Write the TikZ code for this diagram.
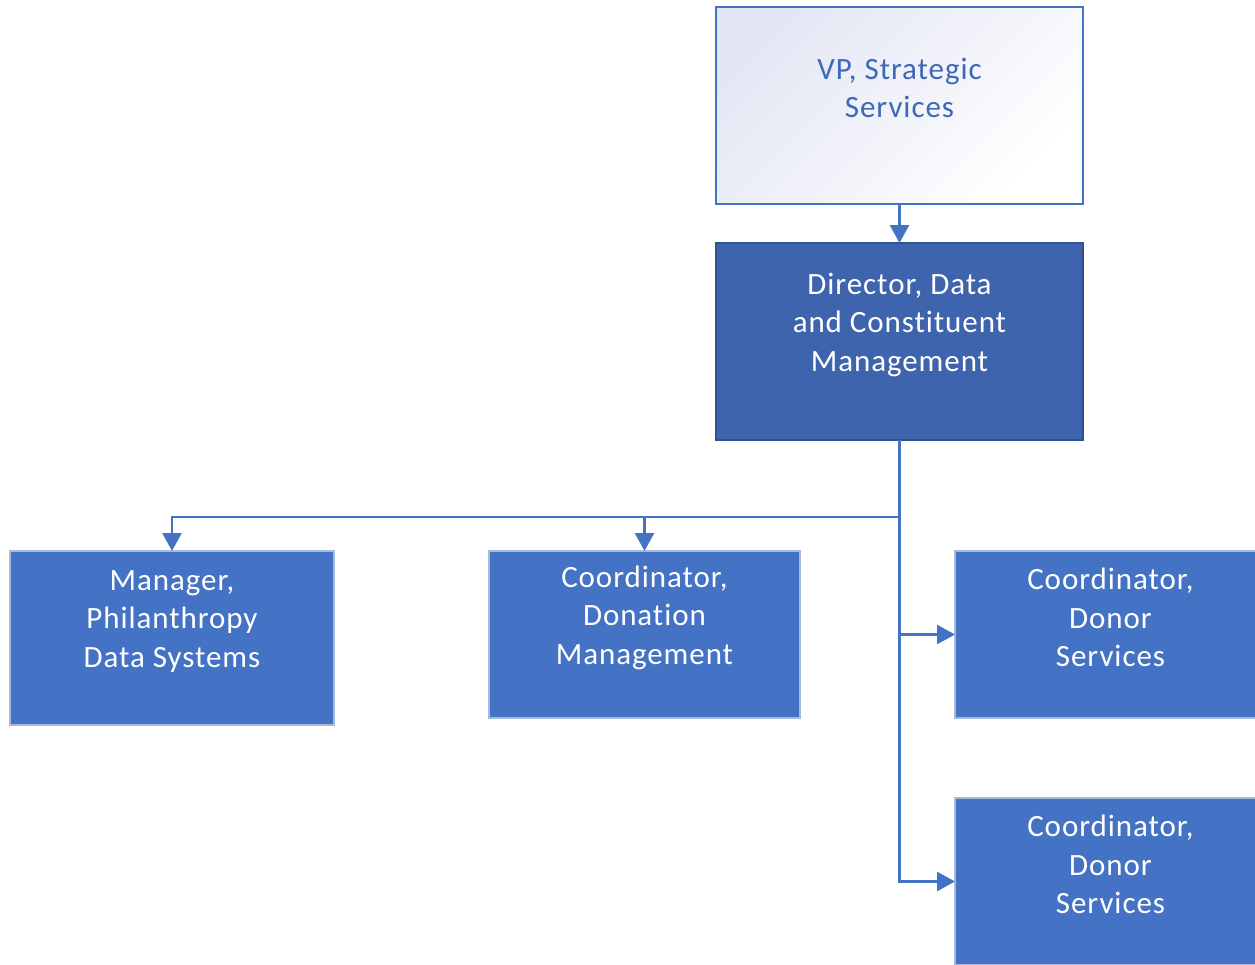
\documentclass[tikz,border=0pt]{standalone}
\usepackage{fontspec}
\setmainfont{Carlito}[Ligatures=NoCommon, LetterSpace=3]
\usetikzlibrary{arrows.meta}
\definecolor{accent}{HTML}{4472C4}
\definecolor{dirfill}{HTML}{3F64AE}
\definecolor{dirdraw}{HTML}{2F528F}
\definecolor{boxdraw}{HTML}{A9B9D9}
\definecolor{vptext}{HTML}{3E68B8}
\definecolor{vpshade}{HTML}{E4E6F4}
\begin{document}
\begin{tikzpicture}[x=1pt,y=-1pt,
  every node/.style={inner sep=0pt, outer sep=0pt},
  unit/.style={rectangle, fill=accent, draw=boxdraw, line width=1.2pt},
  label/.style={font=\fontsize{31}{38.5}\selectfont, align=center, text=white},
  conn/.style={draw=accent, line width=2.6pt},
  arr/.style={conn, -{Triangle[length=18pt,width=19pt]}}]
\useasboundingbox (0,0) rectangle (1255,964);
\clip (0,0) rectangle (1255,964);
% boxes
\node[rectangle, draw=accent, line width=1.6pt, top color=vpshade, bottom color=white, shading angle=45,
  minimum width=367pt, minimum height=197pt] (vp) at (899.5,105.5) {};
\node[rectangle, fill=dirfill, draw=dirdraw, line width=1.2pt,
  minimum width=367pt, minimum height=197pt] (dir) at (899.5,341.5) {};
\node[unit, minimum width=324pt, minimum height=174pt] (mgr) at (172,638) {};
\node[unit, minimum width=311pt, minimum height=167pt] (don) at (644.5,634.5) {};
\node[unit, minimum width=311pt, minimum height=167pt] (ds1) at (1110.5,634.5) {};
\node[unit, minimum width=311pt, minimum height=167pt] (ds2) at (1110.5,881.5) {};
% labels
\node[label, text=vptext] (vpt) at (899.5,88) {VP, Strategic\\Services};
\node[label] (dirt) at (899.5,324.5) {Director, Data\\and Constituent\\Management};
\node[label] (mgrt) at (172,621.5) {Manager,\\Philanthropy\\Data Systems};
\node[label] (dont) at (644.5,617.5) {Coordinator,\\Donation\\Management};
\node[label] (ds1t) at (1110.5,617.5) {Coordinator,\\Donor\\Services};
\node[label] (ds2t) at (1110.5,864.5) {Coordinator,\\Donor\\Services};
% connectors
\coordinate (j) at (899.5,517);
\draw[arr] (vp.south) -- (dir.north);
\draw[conn] (dir.south) -- (j);
\draw[arr] (j) -| (mgr.north);
\draw[arr] (j -| don.north) -- (don.north);
\draw[arr] (j) |- (ds2.west);
\draw[arr] (j |- ds1.west) -- (ds1.west);
\end{tikzpicture}
\end{document}
